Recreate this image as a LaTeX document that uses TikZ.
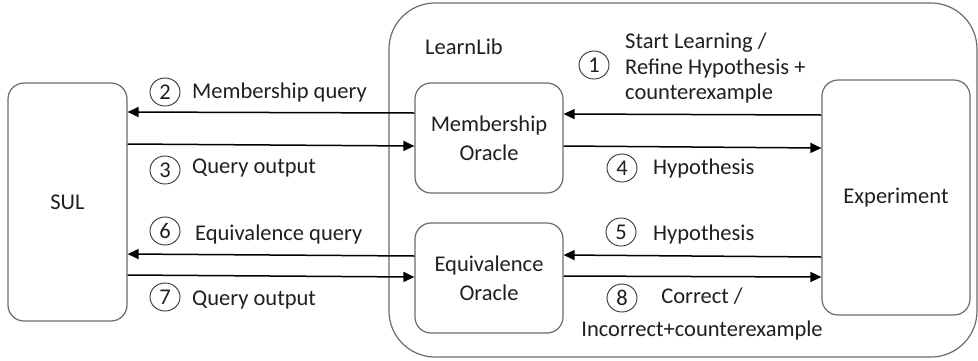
\documentclass[tikz,border=0pt]{standalone}
\usepackage{fontspec}
\setmainfont{Carlito}
\usetikzlibrary{arrows.meta,shapes.geometric}

\begin{document}
\begin{tikzpicture}[x=1pt,y=-1pt,
  every node/.style={font=\fontsize{22.5}{26}\selectfont, text=black!88},
  box/.style={draw=black!58, line width=1.2pt, rounded corners=16pt, align=center, inner sep=0pt},
  arr/.style={line width=1.5pt, draw=black, -{Triangle[length=11pt,width=10pt]}},
  num/.style={ellipse, draw=black!80, line width=0.9pt, minimum width=30pt, minimum height=28pt, inner sep=0pt},
  lbl/.style={anchor=west, inner sep=0pt},
]
\useasboundingbox (0,0) rectangle (978,360);

% LearnLib frame
\node[box, rounded corners=46pt, minimum width=588pt, minimum height=354pt] (ll) at (683,180) {};
\node[lbl] (lltext) at (425,47) {LearnLib};

% components
\node[box, minimum width=119pt, minimum height=238pt] (sul) at (67.5,202) {SUL};
\node[box, minimum width=148pt, minimum height=110pt, font=\fontsize{22.5}{29}\selectfont] (mem) at (489,138) {Membership\\Oracle};
\node[box, minimum width=148pt, minimum height=110pt, font=\fontsize{22.5}{29}\selectfont] (eq) at (489,278) {Equivalence\\Oracle};
\node[box, minimum width=148pt, minimum height=235pt] (exp) at (896,197.5) {Experiment};

% connectors
\draw[arr] (exp.west |- 0,115) -- (mem.east |- 0,114);
\draw[arr] (mem.west |- 0,113) -- (sul.east |- 0,112);
\draw[arr] (sul.east |- 0,144) -- (mem.west |- 0,146);
\draw[arr] (mem.east |- 0,146) -- (exp.west |- 0,148);
\draw[arr] (exp.west |- 0,257) -- (eq.east |- 0,255);
\draw[arr] (eq.west |- 0,256) -- (sul.east |- 0,254);
\draw[arr] (sul.east |- 0,275) -- (eq.west |- 0,277);
\draw[arr] (eq.east |- 0,276) -- (exp.west |- 0,277);

% step numbers and labels
\node[num] (n1) at (594,65) {1};
\node[lbl, align=left, font=\fontsize{22.5}{25.5}\selectfont] (t1) at (625,68) {Start Learning /\\Refine Hypothesis +\\counterexample};

\node[num] (n2) at (165,92) {2};
\node[lbl] (t2) at (192,92) {Membership query};

\node[num] (n3) at (165,170) {3};
\node[lbl] (t3) at (192,168) {Query output};

\node[num] (n4) at (622,168) {4};
\node[lbl] (t4) at (653,168) {Hypothesis};

\node[num] (n5) at (621,232) {5};
\node[lbl] (t5) at (653,234) {Hypothesis};

\node[num] (n6) at (165,231) {6};
\node[lbl] (t6) at (195,234) {Equivalence query};

\node[num] (n7) at (165,297) {7};
\node[lbl] (t7) at (192,300) {Query output};

\node[num] (n8) at (622,298) {8};
\node[align=center, inner sep=0pt, font=\fontsize{22.5}{33}\selectfont] (t8) at (702,313.5) {Correct /\\Incorrect+counterexample};
\end{tikzpicture}
\end{document}
